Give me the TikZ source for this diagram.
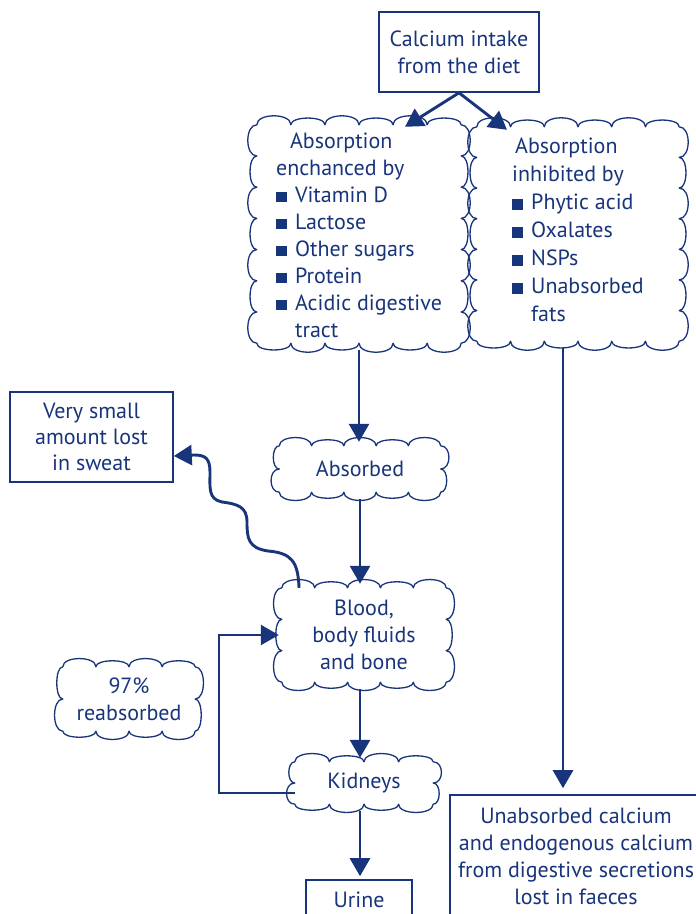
\documentclass[tikz,border=0pt]{standalone}
\usepackage{fontspec}
\setmainfont{PT Sans}
\usetikzlibrary{arrows.meta,calc}
\definecolor{navy}{RGB}{24,52,122}
\newcommand{\bsq}{\rule{10.5pt}{10.5pt}\hspace{8.5pt}}
\newcommand{\cloudify}[4]{%
  \draw[cloudline] (#1.north west)
   foreach \i in {1,...,#2} { .. controls +(0,{-#4-3*mod(\i,2)}) and +(0,{-#4-3*mod(\i,2)}) .. ($(#1.north west)!\i/#2!(#1.north east)$) }
   foreach \i in {1,...,#3} { .. controls +({#4+3*mod(\i,2)},0) and +({#4+3*mod(\i,2)},0) .. ($(#1.north east)!\i/#3!(#1.south east)$) }
   foreach \i in {1,...,#2} { .. controls +(0,{#4+3*mod(\i,2)}) and +(0,{#4+3*mod(\i,2)}) .. ($(#1.south east)!\i/#2!(#1.south west)$) }
   foreach \i in {1,...,#3} { .. controls +({-#4-3*mod(\i,2)},0) and +({-#4-3*mod(\i,2)},0) .. ($(#1.south west)!\i/#3!(#1.north west)$) }
   -- cycle;}
\begin{document}
\begin{tikzpicture}[x=1pt,y=-1pt,
  font=\fontsize{22}{27}\selectfont,
  every node/.style={text=navy},
  boxnode/.style={draw=navy, line width=1.6pt, align=center, inner sep=0pt},
  cloudnode/.style={align=center, inner sep=0pt},
  cloudline/.style={draw=navy, line width=1.3pt, line join=round},
  arr/.style={draw=navy, line width=2.9pt, -{Triangle[length=18pt,width=20pt]}},
]
\useasboundingbox (0,0) rectangle (696,914);

% nodes
\node[boxnode, minimum width=160pt, minimum height=80pt] (calc) at (459,52) {Calcium intake\\from the diet};

\node[cloudnode, align=left, minimum width=204pt, minimum height=218pt] (L) at (359,234)
  {\rule{0pt}{18pt}\hspace*{14pt}Absorption\\enchanced by\\\bsq Vitamin D\\\bsq Lactose\\\bsq Other sugars\\\bsq Protein\\\bsq Acidic digestive\\\hspace*{19pt}tract};

\node[cloudnode, align=left, minimum width=202pt, minimum height=214pt,
  font=\fontsize{22}{28}\selectfont] (R) at (578,234)
  {\hspace*{3pt}Absorption\\inhibited by\\\bsq Phytic acid\\\bsq Oxalates\\\bsq NSPs\\\bsq Unabsorbed\\\hspace*{19pt}fats\rule[-8pt]{0pt}{0pt}};

\node[cloudnode, minimum width=161pt, minimum height=46pt] (Abs) at (360,469) {Absorbed};
\node[cloudnode, minimum width=164pt, minimum height=94pt] (Blood) at (364,635) {Blood,\\body fluids\\and bone};
\node[cloudnode, minimum width=132pt, minimum height=64pt] (reab) at (129,699) {97\%\\reabsorbed};
\node[cloudnode, minimum width=138pt, minimum height=42pt] (Kid) at (364,783) {Kidneys};

\node[boxnode, minimum width=163pt, minimum height=90pt, font=\fontsize{22}{26}\selectfont] (sweat) at (91.5,437) {Very small\\amount lost\\in sweat};
\node[boxnode, minimum width=106pt, minimum height=40pt] (Urine) at (359,900) {Urine};
\node[boxnode, minimum width=252pt, minimum height=122pt] (faeces) at (576,856)
  {Unabsorbed calcium\\and endogenous calcium\\from digestive secretions\\lost in faeces};

% cloud outlines
\cloudify{L}{6}{7}{9}
\cloudify{R}{6}{7}{9}
\cloudify{Abs}{5}{2}{8}
\cloudify{Blood}{5}{3}{8}
\cloudify{reab}{4}{2}{8}
\cloudify{Kid}{4}{2}{8}

% connectors
\draw[arr] (calc.south) -- ([shift={(46pt,-2pt)}]L.north);
\draw[arr] (calc.south) -- ([shift={(-71pt,-3pt)}]R.north);
\draw[arr, shorten <=7pt, shorten >=4pt] (L.south) -- (L.south |- Abs.north);
\draw[arr, shorten <=7pt, shorten >=4pt] (Abs.south) -- (Abs.south |- Blood.north);
\draw[arr, shorten <=7pt, shorten >=4pt] (Blood.south -| Abs.south) -- (Abs.south |- Kid.north);
\draw[arr, shorten <=7pt, shorten >=3pt] (Kid.south -| Abs.south) -- (Abs.south |- Urine.north);
\draw[arr, shorten <=7pt, shorten >=6pt] ([xshift=-15pt]R.south) -- ([xshift=-15pt]R.south |- faeces.north);
\draw[arr, line width=2.4pt, shorten >=3pt] ([yshift=-10pt]Kid.west) -- ++(-76,0) |- (Blood.west);
\draw[arr] (Blood.144) .. controls (298,562) and (292,553) .. (268,551)
  .. controls (248,548) and (247,538) .. (247,522)
  .. controls (247,507) and (238,504) .. (222,502)
  .. controls (208,499) and (210,488) .. (210,472)
  .. controls (210,458) and (205,455) .. (194,455)
  -- ([yshift=-19pt]sweat.east);
\end{tikzpicture}
\end{document}
